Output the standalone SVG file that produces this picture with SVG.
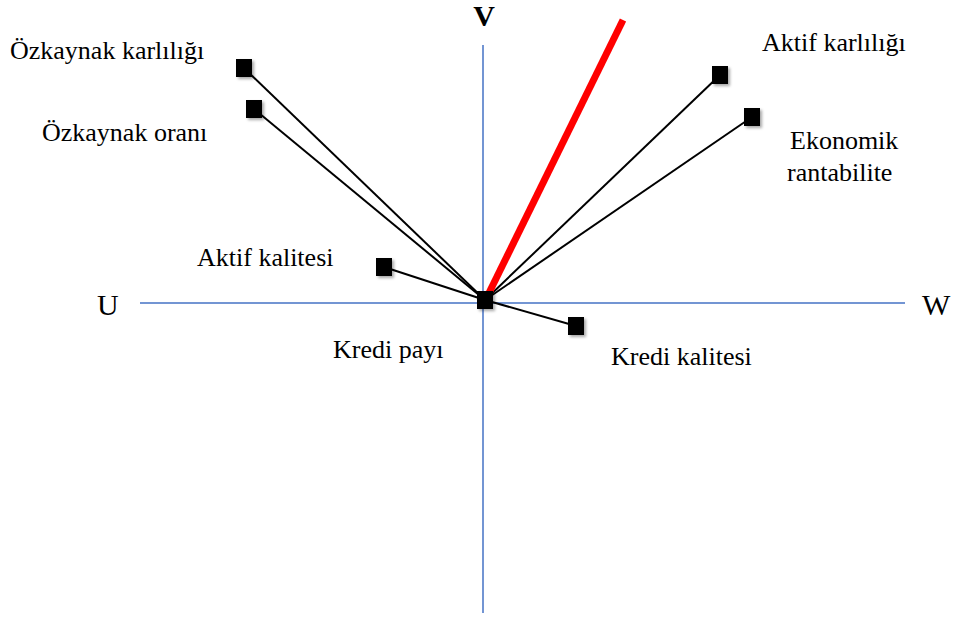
<svg xmlns="http://www.w3.org/2000/svg" width="957" height="621" viewBox="0 0 957 621">
  <defs>
    <filter id="shade" x="-50%" y="-50%" width="200%" height="200%">
      <feGaussianBlur in="SourceAlpha" stdDeviation="1.5"/>
      <feOffset dx="1.5" dy="2" result="b"/>
      <feComponentTransfer><feFuncA type="linear" slope="0.35"/></feComponentTransfer>
      <feMerge><feMergeNode/><feMergeNode in="SourceGraphic"/></feMerge>
    </filter>
  </defs>
  <style>
    .axis { stroke: #4472C4; stroke-width: 1.5; fill: none; }
    .link { stroke: #000; stroke-width: 2; fill: none; }
    .dot { fill: #000; filter: url(#shade); }
    .lbl { font-family: "Liberation Serif", "Times New Roman", serif; font-size: 26px; fill: #000; }
    .ax { font-family: "Liberation Serif", "Times New Roman", serif; font-size: 30px; fill: #000; }
  </style>
  <rect width="957" height="621" fill="#fff"/>

  <!-- axes -->
  <g id="axes">
    <line class="axis" x1="483" y1="45" x2="483" y2="613"/>
    <line class="axis" x1="140" y1="303" x2="905" y2="303"/>
    <text class="ax" x="484" y="26" text-anchor="middle" font-weight="bold">V</text>
    <text class="ax" x="97" y="315">U</text>
    <text class="ax" x="922" y="315">W</text>
  </g>

  <!-- connectors from the origin to each variable -->
  <g id="connectors">
    <line class="link" x1="485" y1="300" x2="244" y2="68"/>
    <line class="link" x1="485" y1="300" x2="254" y2="109"/>
    <line class="link" x1="485" y1="300" x2="720" y2="75"/>
    <line class="link" x1="485" y1="300" x2="752" y2="117"/>
    <line class="link" x1="485" y1="300" x2="384" y2="267"/>
    <line class="link" x1="485" y1="300" x2="576" y2="326"/>
    <line stroke="#FF0000" stroke-width="7" x1="487" y1="297" x2="623" y2="20"/>
  </g>

  <g id="ozkaynak-karliligi">
    <rect class="dot" x="236" y="59" width="16" height="18"/>
    <text class="lbl" x="10" y="59">Özkaynak karlılığı</text>
  </g>
  <g id="ozkaynak-orani">
    <rect class="dot" x="246" y="100" width="16" height="18"/>
    <text class="lbl" x="42" y="141">Özkaynak oranı</text>
  </g>
  <g id="aktif-karliligi">
    <rect class="dot" x="712" y="66" width="16" height="18"/>
    <text class="lbl" x="762" y="51">Aktif karlılığı</text>
  </g>
  <g id="ekonomik-rantabilite">
    <rect class="dot" x="744" y="108" width="16" height="18"/>
    <text class="lbl" x="790" y="149">Ekonomik</text>
    <text class="lbl" x="787" y="181">rantabilite</text>
  </g>
  <g id="aktif-kalitesi">
    <rect class="dot" x="376" y="258" width="16" height="18"/>
    <text class="lbl" x="197" y="266">Aktif kalitesi</text>
  </g>
  <g id="kredi-kalitesi">
    <rect class="dot" x="568" y="317" width="16" height="18"/>
    <text class="lbl" x="611" y="365">Kredi kalitesi</text>
  </g>
  <g id="kredi-payi">
    <rect class="dot" x="477" y="291" width="16" height="18"/>
    <text class="lbl" x="333" y="358">Kredi payı</text>
  </g>
</svg>
